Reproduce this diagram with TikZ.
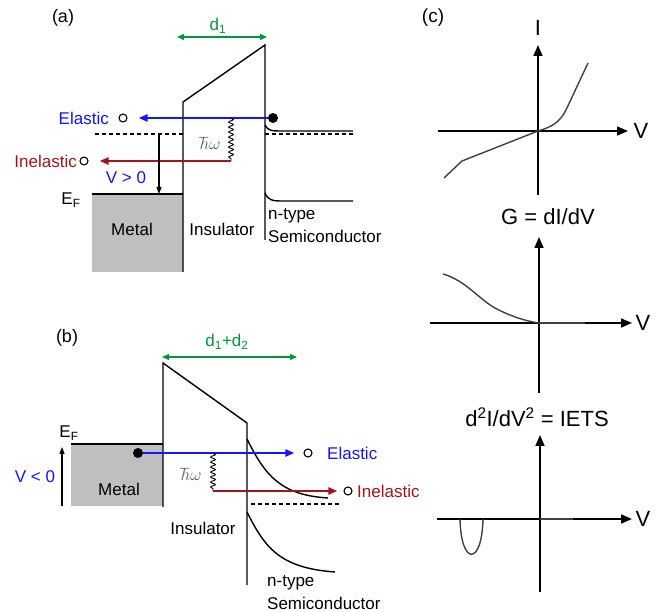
\documentclass[tikz,border=0pt]{standalone}
\usepackage{fontspec}
\setmainfont{Liberation Sans}
\usepackage{tikz}
\usetikzlibrary{arrows.meta,positioning,calc,decorations.pathmorphing}

\definecolor{elblue}{RGB}{20,20,255}
\definecolor{inred}{RGB}{165,20,30}
\definecolor{dgreen}{RGB}{0,150,60}

\begin{document}
\begin{tikzpicture}[x=1pt, y=-1pt,
    band/.style={line width=1.4pt},
    fermi/.style={line width=1.2pt, dash pattern=on 4pt off 3pt},
    metal/.style={fill=black!25},
    lbl/.style={inner sep=0pt, font=\fontsize{17}{20}\selectfont},
    panel/.style={inner sep=0pt, font=\fontsize{18}{21}\selectfont},
    glbl/.style={inner sep=0pt, font=\fontsize{22}{26}\selectfont},
    hw/.style={inner sep=0pt, text=black!65, font=\fontsize{16}{18}\selectfont},
    el/.style={-{Triangle[length=9pt,width=7pt]}, line width=2.4pt, elblue},
    inel/.style={-{Triangle[length=9pt,width=7pt]}, line width=2.2pt, inred},
    bias/.style={-{Triangle[length=7pt,width=5pt]}, line width=1.1pt},
    dist/.style={{Triangle[length=7pt,width=6pt]}-{Triangle[length=7pt,width=6pt]}, line width=1.4pt, dgreen},
    phonon/.style={decorate, decoration={snake, amplitude=2.4pt, segment length=5pt}, line width=0.9pt},
    gaxis/.style={-{Triangle[length=11pt,width=9pt]}, line width=1.6pt},
    gcurve/.style={line width=1.4pt, black!75},
    electron/.style={circle, fill=black, inner sep=0pt, minimum size=10pt},
    hole/.style={circle, draw, line width=1.1pt, inner sep=0pt, minimum size=8pt}
]
\useasboundingbox (0,0) rectangle (662,612);

% (a)
\node[panel] (pa) at (63,18) {(a)};
\fill[metal] (92,194) rectangle (183,272);
\draw[band] (92,194) -- (183,194);
\draw[band] (183,272) -- (183,102) -- (265,45) -- (265,240);
\draw[band] (265,125) .. controls (268,131) and (272,131) .. (282,131) -- (353,131);
\draw[band] (265,193) .. controls (268,200) and (272,201) .. (282,201) -- (353,201);
\draw[fermi] (95,134) -- (183,134);
\draw[fermi] (265,134) -- (353,134);

\coordinate (d1l) at (177,37);
\coordinate (d1r) at (267,37);
\draw[dist] (d1l) -- (d1r);
\node[lbl, text=dgreen] (d1) at (218,26) {d\textsubscript{1}};

\node[electron] (ea) at (273,118) {};
\node[hole] (ha) at (123,118) {};
\node[hole] (hia) at (84,161) {};
\node[lbl, text=elblue, anchor=east] (ela) at (109,118) {Elastic};
\node[lbl, text=inred, anchor=east] (ina) at (77,161) {Inelastic};
\coordinate (pha1) at (231,118);
\coordinate (pha2) at (231,161);
\coordinate (va1) at (159,134);
\coordinate (va2) at (159,194);
\node[lbl, text=elblue] (vpos) at (126,178) {V > 0};
\node[lbl] (efa) at (71,200) {E\textsubscript{F}};
\node[hw] (hwa) at (210,143) {$\hbar\omega$};
\node[lbl] (meta) at (132,229) {Metal};
\node[lbl] (insa) at (222,229) {Insulator};
\node[lbl, anchor=west] (nta) at (268,216) {n-type};
\node[lbl, anchor=west] (sca) at (268,236) {Semiconductor};

\draw[el, shorten >=11pt] (ea) -- (ha);
\draw[phonon] (pha1) -- (pha2);
\draw[inel, shorten >=11pt] (pha2) -- (hia);
\draw[bias] (va1) -- (va2);

% (b)
\node[panel] (pb) at (67,338) {(b)};
\fill[metal] (71,444) rectangle (163,506);
\draw[band] (71,444) -- (163,444);
\draw[band] (163,507) -- (163,363) -- (247,423) -- (247,585);
\draw[band] (247,439) .. controls (265,475) and (280,495) .. (328,498);
\draw[band] (247,512) .. controls (265,548) and (280,568) .. (335,572);
\draw[fermi] (251,504) -- (340,504);

\coordinate (d2l) at (162,357);
\coordinate (d2r) at (297,357);
\draw[dist] (d2l) -- (d2r);
\node[lbl, text=dgreen] (d12) at (227,342) {d\textsubscript{1}+d\textsubscript{2}};

\node[electron] (eb) at (138,453) {};
\node[hole] (hb) at (308,453) {};
\node[hole] (hib) at (348,491) {};
\node[lbl, text=elblue, anchor=west] (elb) at (327,453) {Elastic};
\node[lbl, text=inred, anchor=west] (inb) at (357,491) {Inelastic};
\coordinate (phb1) at (213,453);
\coordinate (phb2) at (213,491);
\coordinate (vb1) at (62,506);
\coordinate (vb2) at (62,447);
\node[lbl, text=elblue] (vneg) at (35,477) {V < 0};
\node[lbl] (efb) at (69,433) {E\textsubscript{F}};
\node[hw] (hwb) at (191,474) {$\hbar\omega$};
\node[lbl] (metb) at (119,489) {Metal};
\node[lbl] (insb) at (203,528) {Insulator};
\node[lbl, anchor=west] (ntb) at (267,583) {n-type};
\node[lbl, anchor=west] (scb) at (267,603) {Semiconductor};

\draw[el, shorten >=9pt] (eb) -- (hb);
\draw[phonon] (phb1) -- (phb2);
\draw[inel, shorten >=6pt] (phb2) -- (hib);
\draw[bias] (vb1) -- (vb2);

% (c)
\node[panel, font=\fontsize{19}{22}\selectfont] (pc) at (433,18) {(c)};

\coordinate (o1) at (538,131);
\coordinate (iy0) at (538,195);
\coordinate (iy1) at (538,45);
\coordinate (ix0) at (438,131);
\coordinate (ix1) at (628,131);
\node[glbl] (ilab) at (538,28) {I};
\node[glbl] (iv) at (641,131) {V};
\draw[gaxis] (iy0) -- (iy1);
\draw[gaxis] (ix0) -- (ix1);
\draw[gcurve] (444,178) -- (462,161) -- (o1) .. controls (552,127) and (560,122) .. (566,110) -- (588,63);

\node[glbl] (glab) at (548,217) {G = dI/dV};
\coordinate (o2) at (539,323);
\coordinate (gy0) at (539,393);
\coordinate (gy1) at (539,237);
\coordinate (gx0) at (430,323);
\coordinate (gx1) at (632,323);
\node[glbl] (gv) at (643,323) {V};
\draw[gaxis] (gy0) -- (gy1);
\draw[gaxis] (gx0) -- (gx1);
\draw[gcurve] (443,274) .. controls (465,280) and (480,300) .. (495,308) .. controls (510,316) and (525,321) .. (o2);
\draw[gcurve, line width=2.2pt] (o2) -- (585,323);

\node[glbl] (slab) at (537,417) {d\textsuperscript{2}I/dV\textsuperscript{2} = IETS};
\coordinate (o3) at (540,519);
\coordinate (sy0) at (540,592);
\coordinate (sy1) at (540,435);
\coordinate (sx0) at (437,519);
\coordinate (sx1) at (632,519);
\node[glbl] (sv) at (643,519) {V};
\draw[gaxis] (sy0) -- (sy1);
\draw[gaxis] (sx0) -- (sx1);
\draw[gcurve] (460,519) .. controls (461,566) and (482,566) .. (483,519);
\draw[gcurve, line width=2.2pt] (o3) -- (573,519);
\end{tikzpicture}
\end{document}
